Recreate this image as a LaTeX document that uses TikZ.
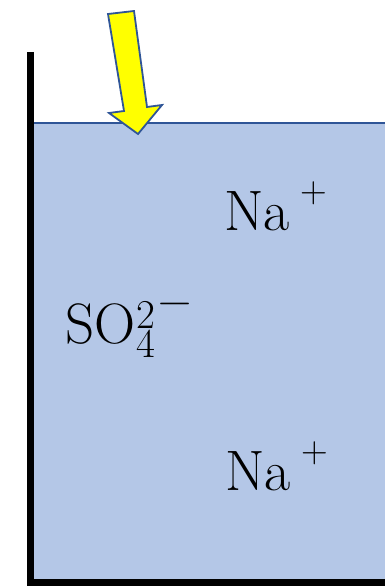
\documentclass[tikz,border=0pt]{standalone}
\usepackage{fontspec}
\setmainfont{Latin Modern Roman}
\definecolor{water}{HTML}{B4C7E7}
\definecolor{edgeblue}{HTML}{2F5597}
\definecolor{arrowyellow}{HTML}{FFFF00}
\newcommand{\scriptsz}{\fontsize{41}{41}\selectfont}
\newcommand{\minussz}{\fontsize{46}{46}\selectfont}
\newcommand{\plussz}{\fontsize{37}{37}\selectfont}
\begin{document}
\begin{tikzpicture}[x=1pt,y=-1pt,
  ion/.style={inner sep=0pt,anchor=base west,font=\fontsize{57}{60}\selectfont},
  wall/.style={line width=7pt,black},
]
\useasboundingbox (0,0) rectangle (385,586);
% water
\fill[water] (34,123) rectangle (385,580);
\draw[edgeblue,line width=2pt] (34,123) -- (385,123);
% container walls
\draw[wall] (30.5,52) -- (30.5,582.5) -- (385,582.5);
% arrow
\draw[edgeblue,line width=1.8pt,fill=arrowyellow,line join=miter]
  (108,14) -- (134,11) -- (147,107) -- (162,105) -- (138,134) -- (109,113) -- (124,111) -- cycle;
% ions
\node[ion] (na1) at (224,230) {Na\hspace{11pt}\raisebox{28pt}{\plussz +}};
\node[ion] (so4) at (65,343) {SO\hspace{1pt}\rlap{\raisebox{-14pt}{\scriptsz 4}}\raisebox{15pt}{\scriptsz 2}\hspace{3pt}\raisebox{28pt}{\minussz −}};
\node[ion] (na2) at (225,490) {Na\hspace{11pt}\raisebox{28pt}{\plussz +}};
\end{tikzpicture}
\end{document}
